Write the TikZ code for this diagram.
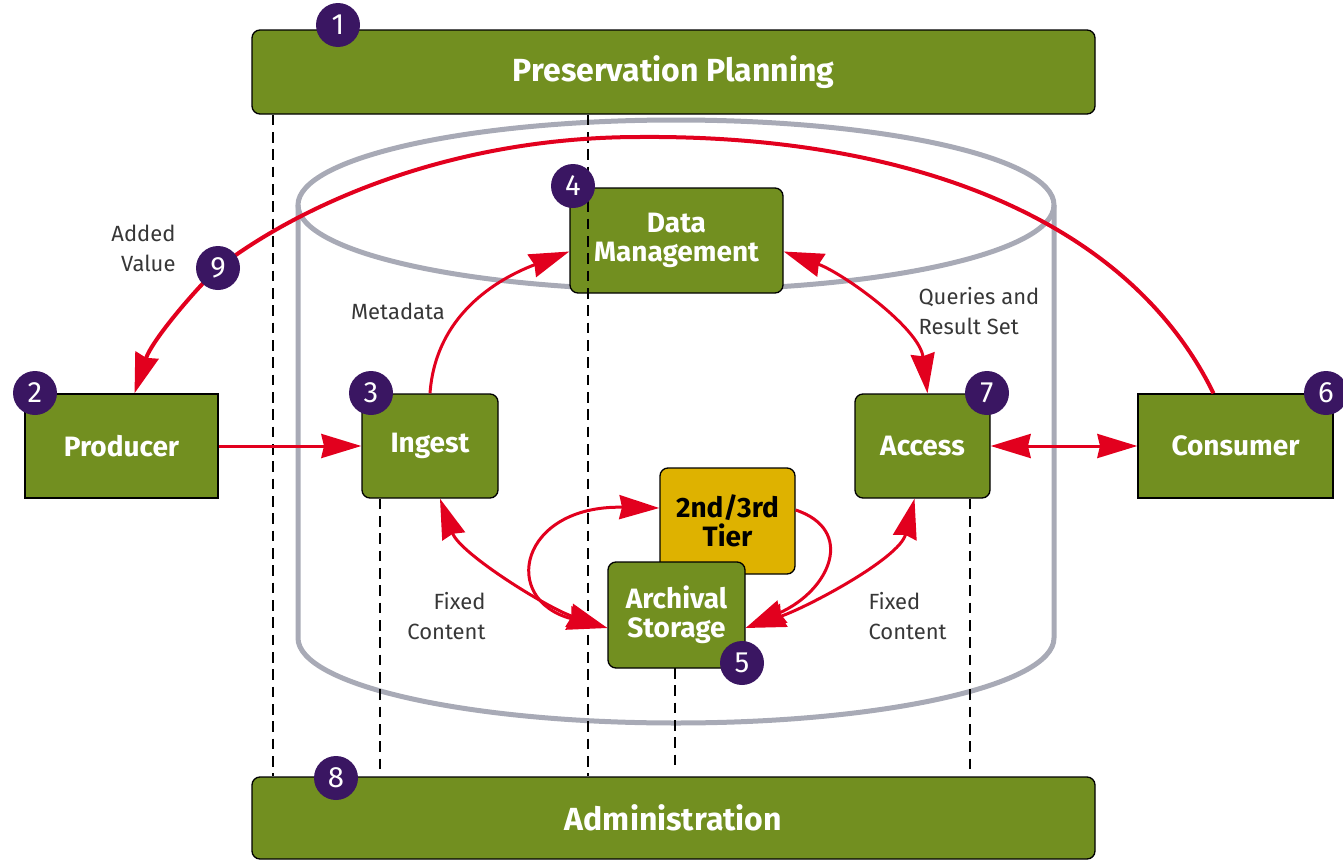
\documentclass[tikz,border=0pt]{standalone}
\usepackage{fontspec}
\setmainfont{Fira Sans}
\usetikzlibrary{arrows.meta,calc}

\definecolor{boxgreen}{RGB}{114,143,32}
\definecolor{tiergold}{RGB}{222,178,0}
\definecolor{numpurple}{RGB}{58,22,98}
\definecolor{arrowred}{RGB}{226,0,30}
\definecolor{cylgray}{RGB}{168,170,182}
\definecolor{notegray}{RGB}{55,55,55}

\tikzset{every picture/.style={line width=0.75pt}}
\tikzset{
  bigtip/.tip={Stealth[length=30pt,width=18pt,inset=2pt]},
  squarebox/.style={draw=black, line width=1pt, fill=boxgreen, text=white, align=center, inner sep=0pt,
    font=\fontsize{21}{22}\selectfont\bfseries},
  roundbox/.style={squarebox, rounded corners=6pt},
  barbox/.style={roundbox, font=\fontsize{24}{26}\selectfont\bfseries, minimum width=632.25pt},
  numdot/.style={circle, fill=numpurple, text=white, minimum size=33pt, inner sep=0pt,
    font=\fontsize{22}{22}\selectfont},
  sidenote/.style={text=notegray, inner sep=0pt, font=\fontsize{16.5}{22.5}\selectfont},
  redline/.style={draw=arrowred, line width=2.25pt},
  oneway/.style={redline, -bigtip},
  twoway/.style={redline, bigtip-bigtip},
  dashline/.style={dash pattern=on 8pt off 5pt, line width=1.1pt},
  cylline/.style={draw=cylgray, line width=3.75pt}
}

\begin{document}
\begin{tikzpicture}[x=0.75pt,y=0.75pt,yscale=-1,xscale=1]
\useasboundingbox (0,0) rectangle (1343,860);

%Cylinder
\draw [cylline] (676,205) ellipse [x radius=378, y radius=85];
\draw [cylline] (298,205) -- (298,638) arc [start angle=180, end angle=0, x radius=378, y radius=85] -- (1054,205);

%Bars
\node [barbox, minimum height=63pt] (plan) at (673.5,72) {Preservation Planning};
\node [barbox, minimum height=61.5pt] (admin) at (673.5,818) {Administration};

%Boxes
\node [squarebox, minimum width=144.75pt, minimum height=78pt] (producer) at (121.5,446) {Producer};
\node [roundbox, minimum width=102pt, minimum height=78pt] (ingest) at (430,446) {Ingest};
\node [roundbox, minimum width=159.75pt, minimum height=78.75pt] (datamgmt) at (676.5,240.5) {Data\\Management};
\node [roundbox, minimum width=101.25pt, minimum height=78pt] (access) at (922.5,446) {Access};
\node [squarebox, minimum width=146.25pt, minimum height=78pt] (consumer) at (1235.5,446) {Consumer};

%Dashed Lines
\draw [dashline] (273,0 |- plan.south) -- (273,0 |- admin.north);
\draw [dashline] (588,0 |- plan.south) -- (588,0 |- admin.north);
\draw [dashline] (380,0 |- ingest.south) -- (380,770);
\draw [dashline] (970,0 |- access.south) -- (970,770);
\draw [dashline] (675,668) -- (675,765);

%Storage Boxes
\node [roundbox, fill=tiergold, text=black, minimum width=101.25pt, minimum height=79.5pt] (tier) at (727.5,521) {2nd/3rd\\Tier};
\node [roundbox, minimum width=102.75pt, minimum height=79.5pt] (storage) at (676.5,615) {Archival\\Storage};

%Flows
\draw [oneway] (producer.east) -- (ingest.west);
\draw [oneway] (ingest.north) .. controls +(6,-84) and +(-63,24) .. ($(datamgmt.west)+(0,11)$);
\draw [twoway] ($(datamgmt.east)+(0,11)$) .. controls +(60,22) and +(-8,-65) .. ($(access.north)+(5,0)$);
\draw [twoway] (access.east) -- (consumer.west);
\draw [twoway] ($(ingest.south)+(10,0)$) .. controls +(20,55) and +(-60,-20) .. ($(storage.west)+(0,13)$);
\draw [twoway] ($(storage.west)+(0,13)$) .. controls +(-108,-28) and +(-140,-3) .. ($(tier.west)+(0,-13)$);
\draw [oneway] ($(tier.east)+(0,-11)$) .. controls +(60,20) and +(85,-38) .. ($(storage.east)+(0,13)$);
\draw [twoway] ($(access.south)+(-8,0)$) .. controls +(-15,60) and +(60,-20) .. ($(storage.east)+(0,13)$);
\draw [redline, line width=3pt, -bigtip] ($(consumer.north)+(-22,0)$) .. controls +(-88,-180) and +(260,-2) .. (640,137)
  .. controls (450,137) and (300,205) .. (218,268) .. controls (195,290) and (152,340) .. ($(producer.north)+(13,0)$);

%Numbers
\node [numdot] (n1) at (338,25) {1};
\node [numdot] (n2) at (35,393) {2};
\node [numdot] (n3) at (371,393) {3};
\node [numdot] (n4) at (573,186) {4};
\node [numdot] (n5) at (742,663) {5};
\node [numdot] (n6) at (1326,393) {6};
\node [numdot] (n7) at (987,393) {7};
\node [numdot] (n8) at (336,778) {8};
\node [numdot] (n9) at (218,268) {9};

% Text Node
\node [sidenote, align=right, anchor=east] (addedlbl) at (176,248) {Added\\Value};
% Text Node
\node [sidenote] (metalbl) at (398,311) {Metadata};
% Text Node
\node [sidenote, align=left, anchor=west] (querylbl) at (918,311) {Queries and\\Result Set};
% Text Node
\node [sidenote, align=right, anchor=east] (fixedleft) at (486,616) {Fixed\\Content};
% Text Node
\node [sidenote, align=left, anchor=west] (fixedright) at (868,616) {Fixed\\Content};

\end{tikzpicture}
\end{document}
